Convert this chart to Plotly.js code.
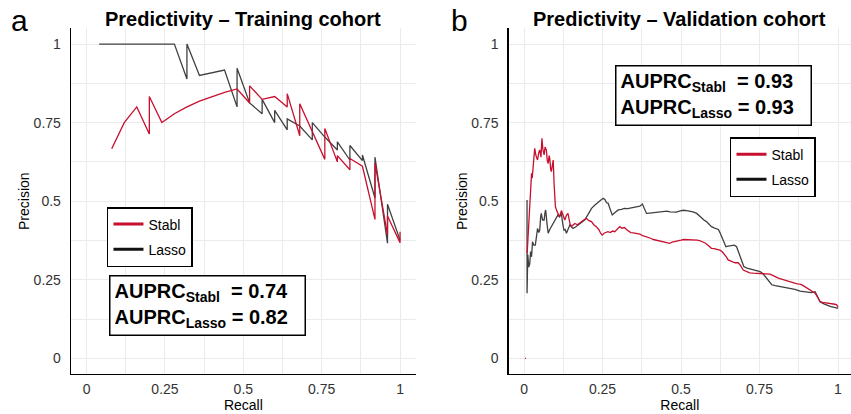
<!DOCTYPE html>
<html>
<head>
<meta charset="utf-8">
<script src="https://cdn.plot.ly/plotly-3.0.1.min.js"></script>
<style>html,body{margin:0;padding:0;background:#fff;}#chart{width:851px;height:414px;}</style>
</head>
<body>
<div id="chart"></div>
<script>
// ---------- Panel a: Training cohort ----------
const trainStablRecall = [0.08,0.12,0.16,0.20,0.20,0.24,0.28,0.32,0.36,0.40,0.44,0.48,0.52,0.52,0.56,0.60,0.64,0.64,0.68,0.68,0.76,0.76,0.80,0.80,0.84,0.84,0.88,0.92,0.92,0.96,0.96,1.00,1.00];
const trainStablPrecision = [0.667,0.75,0.80,0.714,0.833,0.75,0.778,0.80,0.818,0.833,0.846,0.857,0.8125,0.867,0.824,0.833,0.80,0.842,0.708,0.81,0.633,0.731,0.625,0.645,0.60,0.636,0.611,0.442,0.622,0.393,0.453,0.368,0.403];

const trainLassoRecall = [0.04,0.28,0.32,0.32,0.36,0.44,0.48,0.48,0.52,0.56,0.56,0.60,0.60,0.64,0.64,0.68,0.72,0.72,0.76,0.80,0.80,0.84,0.84,0.88,0.88,0.92,0.92,0.96,0.96,1.00];
const trainLassoPrecision = [1,1,0.889,1,0.90,0.917,0.80,0.923,0.8125,0.778,0.824,0.75,0.789,0.727,0.762,0.739,0.695,0.75,0.704,0.663,0.689,0.631,0.677,0.629,0.647,0.51,0.64,0.366,0.49,0.376];

// ---------- Panel b: Validation cohort ----------
const valStablRecall = [0.003,0.006,null,0.010,0.014,0.018,0.021,0.024,0.026,0.030,0.034,0.038,0.043,0.047,0.050,0.054,0.057,0.060,0.064,0.067,0.071,0.074,0.077,0.080,0.082,0.085,0.087,0.090,0.093,0.096,0.100,0.104,0.108,0.113,0.119,0.124,0.130,0.135,0.140,0.146,0.151,0.157,0.162,0.170,0.178,0.183,0.190,0.199,0.207,0.215,0.222,0.230,0.238,0.244,0.249,0.255,0.261,0.267,0.275,0.282,0.289,0.297,0.305,0.312,0.320,0.326,0.333,0.340,0.348,0.356,0.362,0.369,0.378,0.386,0.395,0.403,0.412,0.422,0.430,0.440,0.448,0.456,0.464,0.472,0.482,0.491,0.500,0.508,0.517,0.526,0.535,0.544,0.552,0.561,0.570,0.578,0.586,0.597,0.605,0.614,0.624,0.632,0.640,0.645,0.650,0.656,0.664,0.672,0.682,0.690,0.698,0.708,0.719,0.730,0.741,0.752,0.763,0.774,0.783,0.792,0.801,0.810,0.820,0.831,0.842,0.852,0.862,0.871,0.879,0.888,0.897,0.905,0.911,0.919,0.927,0.935,0.943,0.951,0.960,0.968,0.975,0.983,0.990,0.996,1.000];
const valStablPrecision = [0,0,null,0.334,0.40,0.461,0.53,0.589,0.573,0.62,0.668,0.645,0.631,0.655,0.663,0.64,0.70,0.665,0.647,0.672,0.663,0.63,0.62,0.645,0.636,0.60,0.594,0.612,0.631,0.55,0.482,0.47,0.461,0.45,0.47,0.455,0.44,0.455,0.461,0.43,0.419,0.425,0.429,0.425,0.432,0.435,0.44,0.445,0.438,0.435,0.425,0.419,0.41,0.398,0.392,0.398,0.40,0.403,0.40,0.405,0.403,0.41,0.419,0.414,0.416,0.41,0.405,0.40,0.399,0.397,0.395,0.395,0.39,0.388,0.385,0.382,0.378,0.376,0.374,0.372,0.371,0.368,0.366,0.37,0.373,0.374,0.376,0.378,0.378,0.377,0.378,0.378,0.376,0.374,0.371,0.366,0.36,0.35,0.349,0.347,0.344,0.338,0.329,0.322,0.313,0.31,0.306,0.304,0.304,0.295,0.281,0.277,0.272,0.271,0.27,0.27,0.269,0.268,0.268,0.264,0.259,0.255,0.252,0.248,0.244,0.241,0.239,0.237,0.236,0.232,0.226,0.221,0.218,0.213,0.207,0.195,0.18,0.178,0.177,0.176,0.175,0.174,0.172,0.17,0.162];

const valLassoRecall = [0.0096,0.0096,0.012,0.015,0.018,0.021,0.024,0.027,0.031,0.036,0.040,0.043,0.047,0.050,0.053,0.055,0.059,0.064,0.067,0.069,0.073,0.077,0.082,0.087,0.093,0.100,0.104,0.108,0.113,0.119,0.123,0.127,0.131,0.135,0.140,0.146,0.151,0.156,0.164,0.172,0.182,0.193,0.204,0.215,0.225,0.236,0.244,0.252,0.258,0.263,0.268,0.273,0.281,0.288,0.295,0.300,0.310,0.320,0.330,0.337,0.345,0.355,0.362,0.369,0.377,0.384,0.390,0.400,0.411,0.422,0.433,0.443,0.455,0.465,0.475,0.485,0.495,0.507,0.518,0.528,0.538,0.550,0.557,0.565,0.573,0.581,0.589,0.597,0.605,0.613,0.619,0.624,0.630,0.635,0.643,0.650,0.660,0.670,0.677,0.682,0.690,0.695,0.700,0.710,0.720,0.730,0.741,0.752,0.762,0.773,0.781,0.789,0.800,0.816,0.831,0.847,0.863,0.879,0.897,0.916,0.927,0.935,0.943,0.955,0.964,0.975,0.988,1.000];
const valLassoPrecision = [0.504,0.207,0.33,0.29,0.30,0.34,0.323,0.371,0.36,0.36,0.39,0.413,0.40,0.408,0.45,0.461,0.44,0.44,0.465,0.472,0.43,0.398,0.41,0.419,0.43,0.445,0.45,0.456,0.45,0.461,0.43,0.408,0.41,0.398,0.41,0.424,0.418,0.413,0.418,0.424,0.43,0.44,0.458,0.477,0.487,0.498,0.503,0.509,0.505,0.495,0.493,0.478,0.456,0.462,0.468,0.472,0.474,0.477,0.476,0.477,0.479,0.48,0.482,0.484,0.491,0.475,0.461,0.462,0.463,0.465,0.464,0.466,0.468,0.466,0.466,0.465,0.468,0.471,0.47,0.469,0.466,0.461,0.454,0.445,0.44,0.435,0.427,0.419,0.415,0.413,0.41,0.40,0.385,0.37,0.355,0.357,0.358,0.36,0.355,0.34,0.322,0.305,0.292,0.287,0.284,0.281,0.279,0.276,0.268,0.255,0.245,0.234,0.231,0.228,0.226,0.223,0.219,0.214,0.212,0.209,0.212,0.198,0.18,0.173,0.169,0.165,0.162,0.159];

const seriesNames = ['Stabl','Lasso'];
const titles = ['Predictivity \u2013 Training cohort','Predictivity \u2013 Validation cohort'];
const panelLetters = ['a','b'];
const auprcStabl = ['0.74','0.93'];
const auprcLasso = ['0.82','0.93'];
const tickVals = [0,0.25,0.5,0.75,1];
const tickText = ['0','0.25','0.5','0.75','1'];

const RED = '#c8102e';
const DARK = '#404040';
const FONT = 'Liberation Sans, Arial, sans-serif';

function line(x,y,color,xa,ya){
  return {x:x,y:y,type:'scatter',mode:'lines',xaxis:xa,yaxis:ya,showlegend:false,
    line:{color:color,width:1.3},hoverinfo:'skip',connectgaps:false};
}
function legendEntry(name,color,leg,grp){
  return {x:[null],y:[null],type:'scatter',mode:'lines',name:name,legend:leg,legendgroup:grp,
    line:{color:color,width:3},showlegend:true,xaxis:'x',yaxis:'y'};
}

const data = [
  line(trainLassoRecall,trainLassoPrecision,DARK,'x','y'),
  line(trainStablRecall,trainStablPrecision,RED,'x','y'),
  line(valLassoRecall,valLassoPrecision,DARK,'x2','y2'),
  line(valStablRecall,valStablPrecision,RED,'x2','y2'),
  legendEntry(seriesNames[0],RED,'legend','g1'),
  legendEntry(seriesNames[1],'#111','legend','g2'),
  legendEntry(seriesNames[0],RED,'legend2','h1'),
  legendEntry(seriesNames[1],'#111','legend2','h2')
];

function xAxis(domain,range,anchor){
  return {domain:domain,range:range,anchor:anchor,tickvals:tickVals,ticktext:tickText,
    showgrid:true,gridcolor:'#ebebeb',gridwidth:1,
    minor:{tickvals:[0.125,0.375,0.625,0.875],showgrid:true,gridcolor:'#ebebeb',gridwidth:1,ticks:''},
    showline:true,linecolor:'#000',linewidth:1.3,zeroline:false,ticks:'',
    tickfont:{family:FONT,size:14,color:'#333'},ticklabelstandoff:2,
    title:{text:'Recall',font:{family:FONT,size:14,color:'#000'},standoff:0},fixedrange:true};
}
function yAxis(domain,anchor){
  return {domain:domain,range:[-0.05,1.05],anchor:anchor,tickvals:tickVals,ticktext:tickText,
    showgrid:true,gridcolor:'#ebebeb',gridwidth:1,
    minor:{tickvals:[0.125,0.375,0.625,0.875],showgrid:true,gridcolor:'#ebebeb',gridwidth:1,ticks:''},
    showline:true,linecolor:'#000',linewidth:1.3,zeroline:false,ticks:'',
    tickfont:{family:FONT,size:14,color:'#333'},ticklabelstandoff:6,
    title:{text:'Precision',font:{family:FONT,size:14,color:'#000'},standoff:0},fixedrange:true};
}

function auprcText(i){
  return '<b>AUPRC<sub>Stabl</sub>\u00a0\u00a0= '+auprcStabl[i]+'</b><br><b>AUPRC<sub>Lasso</sub> = '+auprcLasso[i]+'</b>';
}

const legendStyle = {bordercolor:'#000',borderwidth:1.5,bgcolor:'#fff',
  font:{family:FONT,size:14,color:'#000'},xanchor:'left',yanchor:'top',tracegroupgap:4,itemwidth:30};

const layout = {
  width:851,height:414,margin:{l:0,r:0,t:0,b:0},
  paper_bgcolor:'#fff',plot_bgcolor:'#fff',
  font:{family:FONT},
  xaxis:xAxis([0.0834,0.4885],[-0.05,1.05],'y'),
  yaxis:yAxis([0.0966,0.9316],'x'),
  xaxis2:xAxis([0.5977,1.0],[-0.049,1.0414],'y2'),
  yaxis2:yAxis([0.0966,0.9316],'x2'),
  legend:Object.assign({x:0.1257,y:0.5},legendStyle),
  legend2:Object.assign({x:0.8578,y:0.669},legendStyle),
  annotations:[
    {xref:'paper',yref:'paper',x:0.2861,y:0.954,xanchor:'center',yanchor:'middle',showarrow:false,
      text:'<b>'+titles[0]+'</b>',font:{family:FONT,size:20,color:'#000'}},
    {xref:'paper',yref:'paper',x:0.799,y:0.954,xanchor:'center',yanchor:'middle',showarrow:false,
      text:'<b>'+titles[1]+'</b>',font:{family:FONT,size:20,color:'#000'}},
    {xref:'paper',yref:'paper',x:0.0235,y:0.95,xanchor:'center',yanchor:'middle',showarrow:false,
      text:panelLetters[0],font:{family:FONT,size:30,color:'#000'}},
    {xref:'paper',yref:'paper',x:0.5405,y:0.95,xanchor:'center',yanchor:'middle',showarrow:false,
      text:panelLetters[1],font:{family:FONT,size:30,color:'#000'}},
    {xref:'paper',yref:'paper',x:0.2444,y:0.262,xanchor:'center',yanchor:'middle',showarrow:false,
      text:auprcText(0),align:'left',width:186,height:50,borderpad:4,bordercolor:'#000',borderwidth:1.5,bgcolor:'#fff',
      font:{family:FONT,size:20,color:'#000'}},
    {xref:'paper',yref:'paper',x:0.8384,y:0.7693,xanchor:'center',yanchor:'middle',showarrow:false,
      text:auprcText(1),align:'left',width:186,height:50,borderpad:4,bordercolor:'#000',borderwidth:1.5,bgcolor:'#fff',
      font:{family:FONT,size:20,color:'#000'}}
  ]
};

Plotly.newPlot('chart',data,layout,{displayModeBar:false,staticPlot:true});
</script>
</body>
</html>
